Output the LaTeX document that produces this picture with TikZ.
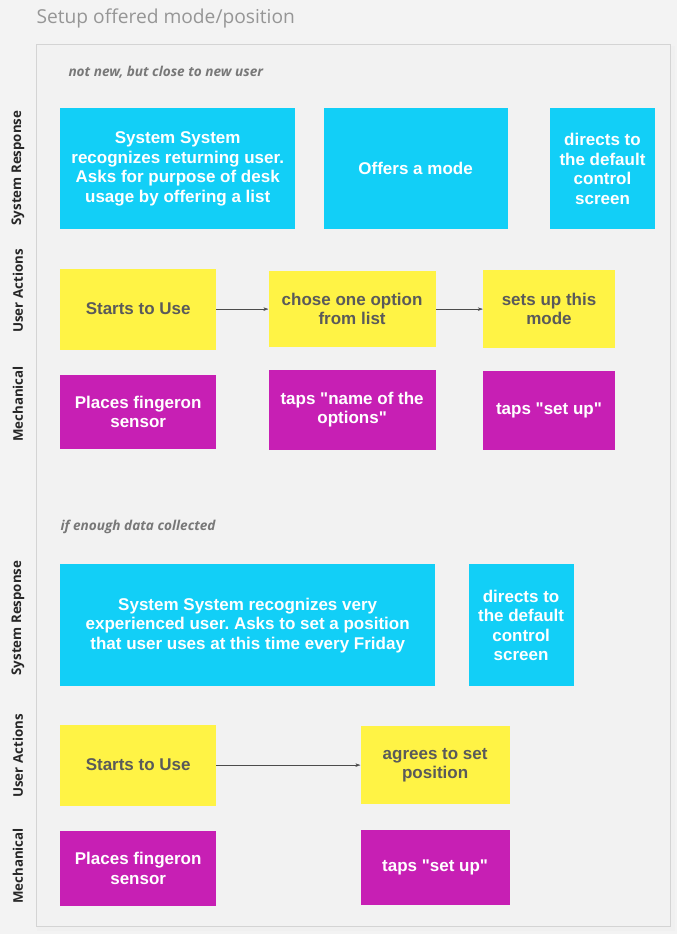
\documentclass[tikz,border=0pt]{standalone}
\usepackage{fontspec}
\usepackage{tikz}
\usetikzlibrary{arrows.meta, positioning}
\setmainfont{Open Sans}
\newfontfamily\boxfont{Liberation Sans}
\frenchspacing
\definecolor{pagebg}{RGB}{243,243,243}
\definecolor{panelbg}{RGB}{242,242,242}
\definecolor{panelline}{RGB}{212,212,212}
\definecolor{resplane}{RGB}{18,207,247}
\definecolor{actlane}{RGB}{255,243,69}
\definecolor{mechlane}{RGB}{199,31,180}
\definecolor{acttext}{RGB}{90,90,90}
\definecolor{titlegray}{RGB}{150,150,150}
\definecolor{notegray}{RGB}{120,120,120}

\begin{document}
\begin{tikzpicture}[
  x=1pt, y=-1pt,
  card/.style={
    rectangle, inner sep=2pt, align=center,
    font=\boxfont\bfseries\fontsize{17}{19.5}\selectfont
  },
  resp/.style={card, fill=resplane, text=white},
  act/.style={card, fill=actlane, text=acttext},
  mech/.style={card, fill=mechlane, text=white},
  lane/.style={rotate=90, font=\bfseries\fontsize{13.3}{15}\selectfont, text=black!85},
  note/.style={anchor=west, font=\bfseries\itshape\fontsize{13.6}{15}\selectfont, text=notegray},
  arrow/.style={-{Stealth[length=5pt, width=3.5pt]}, thin, draw=black!70}
]

% ── Page and panel ──
\fill[pagebg] (0,0) rectangle (677,934);
\useasboundingbox (0,0) rectangle (677,934);
\fill[black!10] (38,47) rectangle (673,929);
\fill[black!6] (37,46) rectangle (675,931);
\filldraw[fill=panelbg, draw=panelline, line width=1pt] (36,45) rectangle (670,926);

% ── Title ──
\node[anchor=west, font=\fontsize{19.2}{22}\selectfont, text=titlegray] (title) at (33,18) {Setup offered mode/position};

% ── First scenario ──
\node[note] (note1) at (65,72) {not new, but close to new user};

\node[resp, anchor=north west, minimum width=235pt, minimum height=121pt] (sr1) at (60,108)
  {System System\\recognizes returning user.\\Asks for purpose of desk\\usage by offering a list};
\node[resp, minimum width=184pt, minimum height=121pt, right=28pt of sr1] (sr2) {Offers a mode};
\node[resp, minimum width=105pt, minimum height=121pt, right=42pt of sr2] (sr3) {directs to\\the default\\control\\screen};

\node[act, minimum width=156pt, minimum height=81pt, below=39pt of sr1.south west, anchor=north west] (ua1) {Starts to Use};
\node[act, minimum width=167pt, minimum height=76pt, right=52pt of ua1] (ua2) {chose one option\\from list};
\node[act, minimum width=132pt, minimum height=78pt, right=47pt of ua2] (ua3) {sets up this\\mode};

\node[mech, minimum width=156pt, minimum height=74pt, below=25pt of ua1] (m1) {Places fingeron\\sensor};
\node[mech, minimum width=167pt, minimum height=80pt, below=22pt of ua2] (m2) {taps "name of the\\options"};
\node[mech, minimum width=132pt, minimum height=79pt, below=22pt of ua3] (m3) {taps "set up"};

% ── Second scenario ──
\node[note] (note2) at (57,527) {if enough data collected};

\node[resp, anchor=north west, minimum width=375pt, minimum height=122pt] (sr4) at (60,564)
  {System System recognizes very\\experienced user. Asks to set a position\\that user uses at this time every Friday};
\node[resp, minimum width=105pt, minimum height=122pt, right=33pt of sr4] (sr5) {directs to\\the default\\control\\screen};

\node[act, minimum width=156pt, minimum height=81pt, below=38pt of sr4.south west, anchor=north west] (ua4) {Starts to Use};
\node[act, minimum width=149pt, minimum height=78pt, right=144pt of ua4] (ua5) {agrees to set\\position};

\node[mech, minimum width=156pt, minimum height=75pt, below=25pt of ua4] (m4) {Places fingeron\\sensor};
\node[mech, minimum width=149pt, minimum height=75pt, below=25pt of ua5] (m5) {taps "set up"};

% ── Lane labels ──
\node[lane] (lblsr1) at (18,168) {System Response};
\node[lane] (lblua1) at (18,291) {User Actions};
\node[lane] (lblm1) at (18,404) {Mechanical};
\node[lane] (lblsr2) at (18,618) {System Response};
\node[lane] (lblua2) at (18,756) {User Actions};
\node[lane] (lblm2) at (18,866) {Mechanical};

% ── Arrows ──
\draw[arrow] (ua1) -- (ua2);
\draw[arrow] (ua2) -- (ua3);
\draw[arrow] (ua4) -- (ua5);

\end{tikzpicture}
\end{document}
